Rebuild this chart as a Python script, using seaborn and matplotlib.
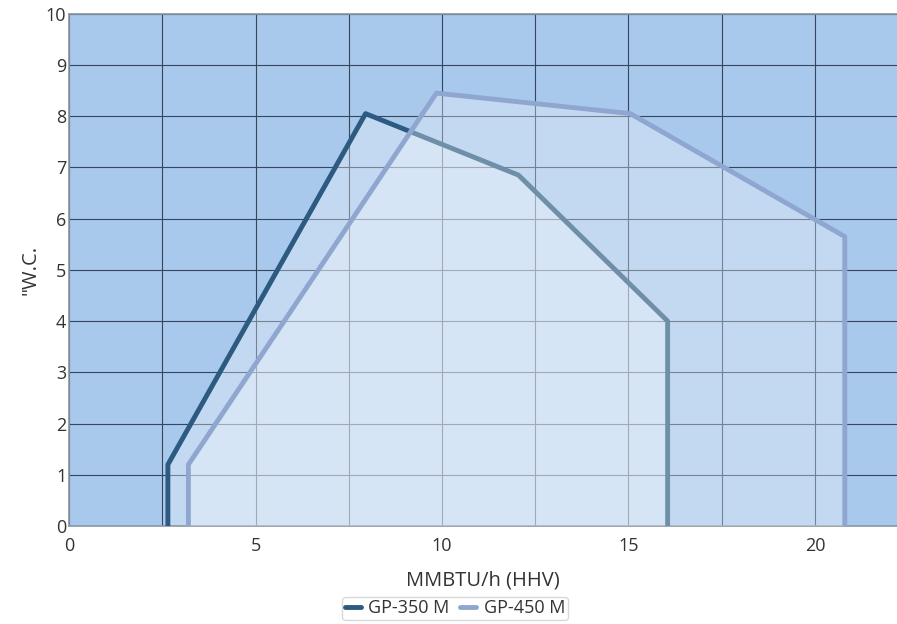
import matplotlib
matplotlib.use("Agg")
import matplotlib.pyplot as plt
import seaborn as sns
import pandas as pd
from matplotlib.ticker import MultipleLocator

# Operating envelopes
gp350_x = [2.65, 2.65, 7.95, 12.05, 16.05, 16.05]
gp350_y = [0.0, 1.2, 8.05, 6.85, 4.0, 0.0]
gp450_x = [3.2, 3.2, 9.85, 15.05, 20.8, 20.8]
gp450_y = [0.0, 1.2, 8.45, 8.05, 5.65, 0.0]

series = [("GP-350 M", gp350_x, gp350_y, "#2c5a80"),
          ("GP-450 M", gp450_x, gp450_y, "#8fa7d0")]

sns.set_theme(style="white")
plt.rcParams["font.family"] = ["Open Sans", "DejaVu Sans"]

fig = plt.figure(figsize=(8.97, 6.24), dpi=100)
ax = fig.add_axes([0.077, 0.157, 0.923, 0.821])
ax.set_facecolor("#a8c8ec")

z = 2
for name, xs, ys, col in series:
    df = pd.DataFrame({"x": xs, "y": ys})
    ax.fill(xs, ys, color="white", alpha=0.32, lw=0, zorder=z)
    sns.lineplot(data=df, x="x", y="y", sort=False, estimator=None,
                 color=col, lw=3.5, label=name, ax=ax, zorder=z + 1)
    z += 2

ax.set_xlim(0, 22.2)
ax.set_ylim(0, 10)
ax.xaxis.set_major_locator(MultipleLocator(5))
ax.xaxis.set_minor_locator(MultipleLocator(2.5))
ax.yaxis.set_major_locator(MultipleLocator(1))
ax.grid(True, which="both", color="#34475c", lw=0.8, zorder=1)
ax.set_axisbelow(True)

for s in ["left", "bottom", "top"]:
    ax.spines[s].set_color("#8a96a3")
    ax.spines[s].set_linewidth(1.2)
ax.spines["right"].set_visible(False)

ax.tick_params(axis="both", labelsize=13, colors="#333333", length=0)
ax.tick_params(axis="x", pad=8)
ax.tick_params(axis="y", pad=2)
ax.set_xlabel("MMBTU/h (HHV)", fontsize=14.5, color="#333333", labelpad=11)
ax.set_ylabel('"W.C.', fontsize=14.5, color="#333333", labelpad=4)

leg = ax.legend(loc="upper center", bbox_to_anchor=(0.466, -0.138), ncol=2,
                frameon=True, fontsize=13, handlelength=0.9, handletextpad=0.4,
                columnspacing=0.6, borderpad=0.15, borderaxespad=0,
                fancybox=True)
leg.get_frame().set_edgecolor("#d0d0d0")
for t in leg.get_texts():
    t.set_color("#333333")

fig.savefig("out.png", dpi=100)
